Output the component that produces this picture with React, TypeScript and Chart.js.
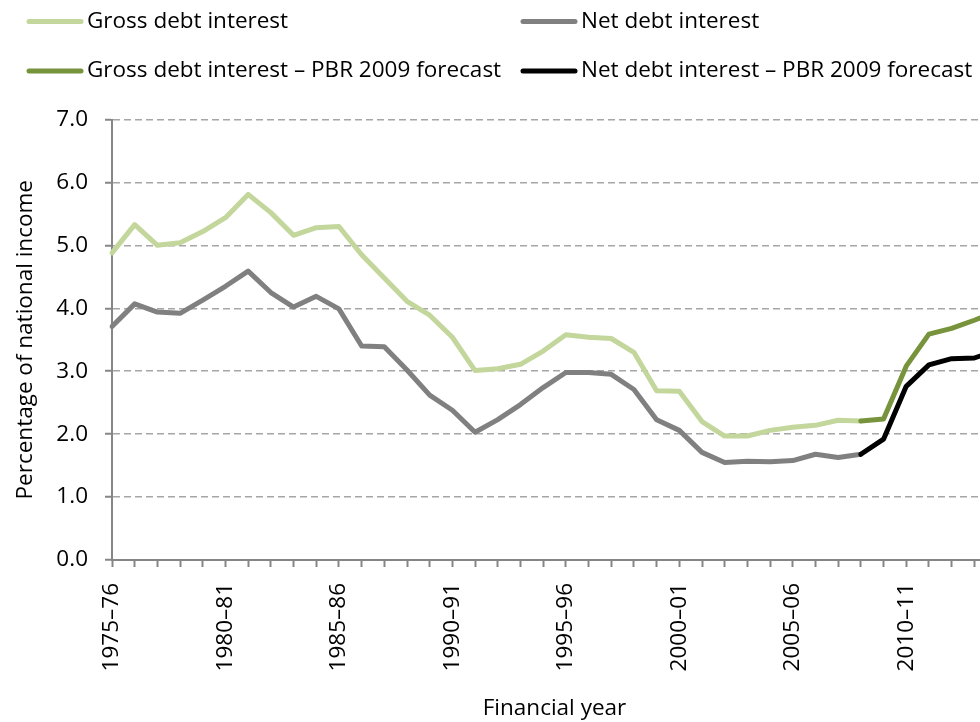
import React, { useEffect, useRef } from "react";
import { Chart, registerables } from "chart.js";

Chart.register(...registerables);

const years: string[] = [
  "1975–76", "1976–77", "1977–78", "1978–79", "1979–80",
  "1980–81", "1981–82", "1982–83", "1983–84", "1984–85",
  "1985–86", "1986–87", "1987–88", "1988–89", "1989–90",
  "1990–91", "1991–92", "1992–93", "1993–94", "1994–95",
  "1995–96", "1996–97", "1997–98", "1998–99", "1999–00",
  "2000–01", "2001–02", "2002–03", "2003–04", "2004–05",
  "2005–06", "2006–07", "2007–08", "2008–09", "2009–10",
  "2010–11", "2011–12", "2012–13", "2013–14", "2014–15",
];

const grossDebt: (number | null)[] = [
  4.88, 5.33, 5.0, 5.04, 5.22, 5.44, 5.81, 5.52, 5.16, 5.28,
  5.3, 4.85, 4.48, 4.11, 3.89, 3.54, 3.01, 3.04, 3.11, 3.32,
  3.58, 3.54, 3.52, 3.3, 2.69, 2.68, 2.2, 1.97, 1.97, 2.06,
  2.11, 2.14, 2.22, 2.21, null, null, null, null, null, null,
];

const netDebt: (number | null)[] = [
  3.71, 4.07, 3.94, 3.92, 4.13, 4.35, 4.59, 4.25, 4.02, 4.19,
  3.99, 3.4, 3.39, 3.02, 2.62, 2.38, 2.03, 2.23, 2.47, 2.74,
  2.98, 2.98, 2.95, 2.71, 2.23, 2.06, 1.71, 1.55, 1.57, 1.56,
  1.58, 1.68, 1.63, 1.68, null, null, null, null, null, null,
];

const grossForecast: (number | null)[] = [
  null, null, null, null, null, null, null, null, null, null,
  null, null, null, null, null, null, null, null, null, null,
  null, null, null, null, null, null, null, null, null, null,
  null, null, null, 2.21, 2.24, 3.08, 3.59, 3.68, 3.81, 3.95,
];

const netForecast: (number | null)[] = [
  null, null, null, null, null, null, null, null, null, null,
  null, null, null, null, null, null, null, null, null, null,
  null, null, null, null, null, null, null, null, null, null,
  null, null, null, 1.68, 1.92, 2.76, 3.1, 3.2, 3.21, 3.33,
];

const seriesLabels: string[] = [
  "Gross debt interest",
  "Net debt interest",
  "Gross debt interest – PBR 2009 forecast",
  "Net debt interest – PBR 2009 forecast",
];

const yTicks: number[] = [0, 1, 2, 3, 4, 5, 6, 7];

const FONT = "'Open Sans', sans-serif";
const FS = 22.5;

const legendPlugin = {
  id: "gridLegend",
  afterDraw(chart: any) {
    const ctx = chart.ctx as CanvasRenderingContext2D;
    const slots = [
      { x: 27, y: 21.5 },
      { x: 521, y: 21.5 },
      { x: 27, y: 71 },
      { x: 521, y: 71 },
    ];
    ctx.save();
    chart.data.datasets.forEach((ds: any, i: number) => {
      const s = slots[i];
      ctx.strokeStyle = ds.borderColor;
      ctx.lineWidth = 5;
      ctx.lineCap = "round";
      ctx.beginPath();
      ctx.moveTo(s.x + 2, s.y);
      ctx.lineTo(s.x + 54, s.y);
      ctx.stroke();
      ctx.fillStyle = "#000";
      ctx.font = `${FS}px ${FONT}`;
      ctx.textAlign = "left";
      ctx.textBaseline = "middle";
      ctx.fillText(ds.label, s.x + 60, s.y);
    });
    ctx.restore();
  },
};

export default function App() {
  const ref = useRef<HTMLCanvasElement>(null);

  useEffect(() => {
    if (!ref.current) return;
    const common = {
      pointRadius: 0,
      pointHoverRadius: 0,
      borderWidth: 5,
      tension: 0,
      fill: false,
      spanGaps: false,
      borderCapStyle: "round" as const,
      borderJoinStyle: "round" as const,
    };
    const chart = new Chart(ref.current, {
      type: "line",
      data: {
        labels: years,
        datasets: [
          { ...common, label: seriesLabels[0], data: grossDebt, borderColor: "#c3d69b", order: 2 },
          { ...common, label: seriesLabels[1], data: netDebt, borderColor: "#808080", order: 2 },
          { ...common, label: seriesLabels[2], data: grossForecast, borderColor: "#77933c", order: 1 },
          { ...common, label: seriesLabels[3], data: netForecast, borderColor: "#000000", order: 1 },
        ],
      },
      options: {
        animation: false,
        responsive: false,
        events: [],
        layout: { padding: { top: 119.5, right: 14, left: 0, bottom: 0 } },
        plugins: {
          legend: { display: false },
          tooltip: { enabled: false },
        },
        scales: {
          x: {
            type: "category",
            offset: false,
            afterFit: (scale: any) => {
              scale.height = 162;
            },
            grid: {
              display: true,
              drawOnChartArea: false,
              drawTicks: true,
              tickLength: 7,
              tickColor: "#868686",
              tickWidth: 2,
              color: "#868686",
            },
            border: { display: true, color: "#868686", width: 2 },
            ticks: {
              autoSkip: false,
              maxRotation: 90,
              minRotation: 90,
              padding: 16,
              color: "#000",
              font: { family: FONT, size: FS },
              callback: (_v: any, i: number) => (i % 5 === 0 ? years[i] : ""),
            },
            title: {
              display: true,
              text: "Financial year",
              color: "#000",
              font: { family: FONT, size: FS },
              padding: { top: 0, bottom: 0 },
            },
          },
          y: {
            min: 0,
            max: 7,
            afterFit: (scale: any) => {
              scale.width = 112;
            },
            afterBuildTicks: (scale: any) => {
              scale.ticks = yTicks.map((v) => ({ value: v }));
            },
            grid: {
              display: true,
              drawOnChartArea: true,
              drawTicks: true,
              tickLength: 7,
              tickColor: "#868686",
              tickWidth: 2,
              tickBorderDash: [],
              color: "#a6a6a6",
              lineWidth: 1.5,
            },
            border: { display: true, color: "#868686", width: 2, dash: [7, 4] },
            ticks: {
              padding: 17,
              color: "#000",
              font: { family: FONT, size: FS },
              callback: (v: any) => Number(v).toFixed(1),
            },
            title: {
              display: true,
              text: "Percentage of national income",
              color: "#000",
              font: { family: FONT, size: FS },
              padding: { top: 12, bottom: 0 },
            },
          },
        },
      },
      plugins: [legendPlugin],
    });
    return () => chart.destroy();
  }, []);

  return (
    <div
      style={{
        position: "fixed",
        left: 0,
        top: 0,
        width: 980,
        height: 722,
        overflow: "hidden",
        background: "#fff",
      }}
    >
      <canvas ref={ref} width={1040} height={722} style={{ width: 1040, height: 722, display: "block" }} />
    </div>
  );
}
